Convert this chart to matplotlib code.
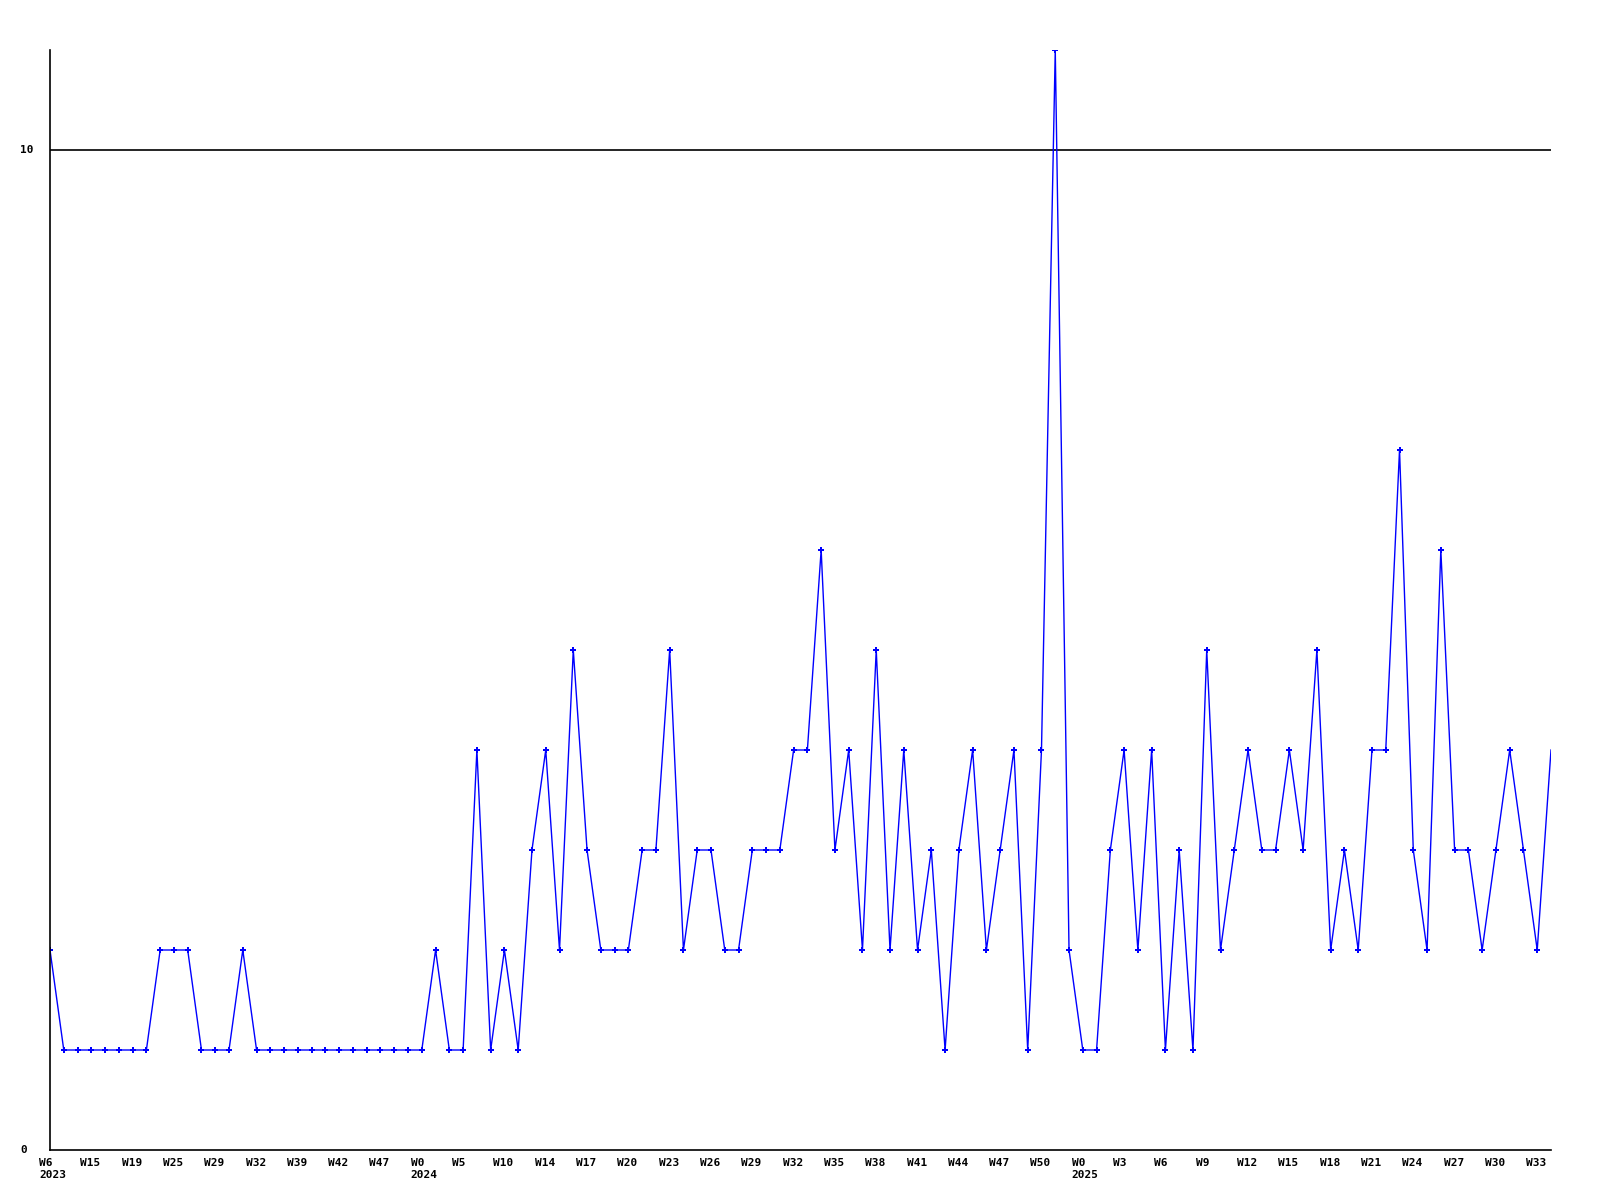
import numpy as np
import matplotlib.pyplot as plt
from matplotlib.transforms import ScaledTranslation

# weekly counts, one value per point
counts = [2, 1, 1, 1, 1, 1, 1, 1, 2, 2, 2, 1, 1, 1, 2,
          1, 1, 1, 1, 1, 1, 1, 1, 1, 1, 1, 1, 1,
          2, 1, 1, 4, 1, 2, 1, 3, 4, 2, 5, 3, 2, 2, 2, 3, 3, 5, 2, 3, 3, 2, 2,
          3, 3, 3, 4, 4, 6, 3, 4, 2, 5, 2, 4, 2, 3, 1, 3, 4, 2, 3, 4, 1, 4, 11,
          2, 1, 1, 3, 4, 2, 4, 1, 3, 1, 5, 2, 3, 4, 3, 3, 4, 3, 5, 2, 3, 2, 4,
          4, 7, 3, 2, 6, 3, 3, 2, 3, 4, 3, 2, 4]

# label shown every third point
week_labels = ['W6\n2023', 'W15', 'W19', 'W25', 'W29', 'W32', 'W39', 'W42', 'W47',
               'W0\n2024', 'W5', 'W10', 'W14', 'W17', 'W20', 'W23', 'W26', 'W29',
               'W32', 'W35', 'W38', 'W41', 'W44', 'W47', 'W50',
               'W0\n2025', 'W3', 'W6', 'W9', 'W12', 'W15', 'W18', 'W21', 'W24',
               'W27', 'W30', 'W33']

x = np.arange(len(counts))

fig = plt.figure(figsize=(16, 12), dpi=100)
ax = fig.add_axes([50 / 1600, 1 - 1150 / 1200, 1501 / 1600, 1100 / 1200])

ax.plot(x, counts, color='#0000ff', lw=1, marker='P', ms=4.5, mew=0,
        markevery=list(range(len(counts) - 1)), clip_on=True)
ax.axhline(10, color='black', lw=1.2, zorder=1)

ax.set_xlim(0, len(counts) - 1)
ax.set_ylim(0, 11)

for s in ['top', 'right']:
    ax.spines[s].set_visible(False)
for s in ['left', 'bottom']:
    ax.spines[s].set_linewidth(1.2)
    ax.spines[s].set_color('black')

font = dict(family='DejaVu Sans Mono', weight='bold', size=8)

ax.set_xticks(x[::3])
ax.set_xticklabels(week_labels, ha='left', multialignment='left', **font)
ax.tick_params(axis='x', length=0, pad=6)
shift = ScaledTranslation(-11 / 100, 0, fig.dpi_scale_trans)
for lab in ax.get_xticklabels():
    lab.set_transform(lab.get_transform() + shift)

ax.set_yticks([])
for v in [0, 10]:
    fig.text(20 / 1600, 1 - (1150 - v * 100) / 1200, str(v), ha='left', va='center', **font)

fig.savefig('out.png', dpi=100)
